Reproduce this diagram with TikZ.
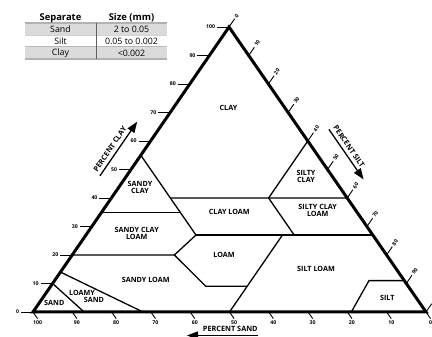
\documentclass[tikz,border=0pt]{standalone}
\usepackage{fontspec}
\setmainfont{Open Sans}
\usetikzlibrary{arrows.meta,calc}
\tikzset{
  axisline/.style={line width=3pt,line join=miter},
  bound/.style={line width=1.3pt},
  tickmark/.style={line width=0.9pt},
  ticklabel/.style={font=\fontsize{5.2}{6}\selectfont\bfseries,inner sep=1.5pt},
  zone/.style={font=\fontsize{7.2}{7}\selectfont\bfseries,align=center,inner sep=0pt},
  axisname/.style={font=\fontsize{7.3}{8}\selectfont\bfseries,inner sep=0.5pt},
  axisarrow/.style={line width=1.3pt,-{Triangle[length=11pt,width=8pt]}},
  tabrow/.style={font=\fontsize{8.8}{10}\selectfont,inner sep=0pt},
  tabhead/.style={font=\fontsize{9.4}{10}\selectfont\bfseries,inner sep=0pt},
}

\begin{document}
\begin{tikzpicture}[x=1pt,y=1pt]
  \useasboundingbox (0,0) rectangle (432,337);
  % corners: A = 100% sand, B = 100% silt, C = 100% clay
  \coordinate (A) at (33,25);
  \coordinate (B) at (426,25);
  \coordinate (C) at (229,310);

  % table of separates
  \fill[gray!28] (25,302) rectangle (167,314);
  \fill[gray!28] (25,278) rectangle (167,290);
  \draw[gray!60,line width=1.2pt] (25,314) -- (167,314);
  \draw[gray!35,line width=0.8pt] (25,302) -- (167,302);
  \draw[gray!55,line width=1pt] (25,290) -- (167,290);
  \draw[gray!60,line width=1.2pt] (25,278) -- (167,278);
  \draw[gray!75!black,line width=0.8pt] (96,314) -- (96,278);
  \node[tabhead] (hsep) at (60.5,319) {Separate};
  \node[tabhead] (hsize) at (131.5,319) {Size (mm)};
  \foreach \sep/\size [count=\i] in {Sand/2 to 0.05,Silt/0.05 to 0.002,Clay/<0.002}{
    \node[tabrow] (sep\i) at (60.5,320-12*\i) {\sep};
    \node[tabrow] (size\i) at (131.5,320-12*\i) {\size};
  }

  % class boundaries (sand, silt, clay as fractions)
  \coordinate (sd1) at (barycentric cs:A=.87,B=.13,C=0);
  \coordinate (sd2) at (barycentric cs:A=.90,B=0,C=.10);
  \coordinate (ls1) at (barycentric cs:A=.72,B=.28,C=0);
  \coordinate (ls2) at (barycentric cs:A=.86,B=0,C=.14);
  \coordinate (c20a) at (barycentric cs:A=.80,B=0,C=.20);
  \coordinate (lm1) at (barycentric cs:A=.54,B=.26,C=.20);
  \coordinate (lm2) at (barycentric cs:A=.45,B=.28,C=.27);
  \coordinate (lm3) at (barycentric cs:A=.515,B=.395,C=.09);
  \coordinate (lm4) at (barycentric cs:A=.41,B=.50,C=.09);
  \coordinate (sl0) at (barycentric cs:A=.50,B=.50,C=0);
  \coordinate (sl1) at (barycentric cs:A=.23,B=.50,C=.27);
  \coordinate (c27b) at (barycentric cs:A=0,B=.73,C=.27);
  \coordinate (scl1) at (barycentric cs:A=.20,B=.53,C=.27);
  \coordinate (c40a) at (barycentric cs:A=.45,B=.15,C=.40);
  \coordinate (c40b) at (barycentric cs:A=.20,B=.40,C=.40);
  \coordinate (c40c) at (barycentric cs:A=0,B=.60,C=.40);
  \coordinate (sc1) at (barycentric cs:A=0,B=.40,C=.60);
  \coordinate (sc2) at (barycentric cs:A=.45,B=0,C=.55);
  \coordinate (c35a) at (barycentric cs:A=.65,B=0,C=.35);
  \coordinate (c35b) at (barycentric cs:A=.45,B=.20,C=.35);
  \coordinate (st1) at (barycentric cs:A=.19,B=.81,C=0);
  \coordinate (st2) at (barycentric cs:A=.09,B=.80,C=.11);
  \coordinate (st3) at (barycentric cs:A=0,B=.89,C=.11);

  \draw[bound] (sd1) -- (sd2);
  \draw[bound] (ls1) -- (ls2);
  \draw[bound] (sc2) -- (lm2) -- (lm1) -- (lm3) -- (lm4);
  \draw[bound] (c20a) -- (lm1);
  \draw[bound] (c35a) -- (c35b);
  \draw[bound] (c40a) -- (c40c);
  \draw[bound] (sc1) -- (c40b) -- (scl1);
  \draw[bound] (lm2) -- (c27b);
  \draw[bound] (sl0) -- (sl1);
  \draw[bound] (st1) -- (st2) -- (st3);

  \draw[axisline] (A) -- (B) -- (C) -- cycle;

  % scales
  \foreach \v in {0,10,...,100}{
    \draw[tickmark] ($(A)!\v/100!(C)$) -- ++(-12,0)
      node[ticklabel,left] {\v};
    \draw[tickmark] ($(C)!\v/100!(B)$) -- ++(55.5:10)
      node[ticklabel,rotate=55.5,anchor=west] {\v};
    \draw[tickmark] ($(B)!\v/100!(A)$) -- ++(-55.3:8)
      node[ticklabel,anchor=north] {\v};
  }

  % class names
  \node[zone] (clay) at (228.5,229.3) {CLAY};
  \node[zone] (sclay) at (140,149.5) {SANDY\\CLAY};
  \node[zone] (siclay) at (306,160.7) {SILTY\\CLAY};
  \node[zone] (cloam) at (229.3,125.3) {CLAY LOAM};
  \node[zone] (sicloam) at (317.7,126.3) {SILTY CLAY\\LOAM};
  \node[zone] (scloam) at (136.7,103.3) {SANDY CLAY\\LOAM};
  \node[zone] (loam) at (224,82) {LOAM};
  \node[zone] (sloam) at (145.7,57) {SANDY LOAM};
  \node[zone] (siloam) at (316,68) {SILT LOAM};
  \node[zone,align=left] (lsand) at (86.6,40.7) {LOAMY\\\hspace*{14.8pt}SAND};
  \node[zone] (sand) at (54.3,33.7) {SAND};
  \node[zone] (silt) at (387.3,38.7) {SILT};

  % axis names
  \path (A) -- (C) coordinate[pos=.434] (pc1) coordinate[pos=.624] (pc2);
  \coordinate (pcA) at ($(pc1)!22pt!90:(pc2)$);
  \coordinate (pcB) at ($(pc2)!22pt!-90:(pc1)$);
  \draw[axisarrow] (pcA) -- (pcB)
    node[axisname,pos=.42,sloped,above=3pt] (pclay) {PERCENT CLAY};
  \path (C) -- (B) coordinate[pos=.407] (ps1) coordinate[pos=.583] (ps2);
  \coordinate (psA) at ($(ps1)!24pt!90:(ps2)$);
  \coordinate (psB) at ($(ps2)!24pt!-90:(ps1)$);
  \draw[axisarrow] (psA) -- (psB)
    node[axisname,pos=.42,sloped,above=3pt] (psilt) {PERCENT SILT};
  \coordinate (pdA) at (258,1.5);
  \coordinate (pdB) at (187,1.5);
  \draw[axisarrow] (pdA) -- (pdB)
    node[axisname,pos=.39,above=3pt] (psand) {PERCENT SAND};
\end{tikzpicture}
\end{document}
